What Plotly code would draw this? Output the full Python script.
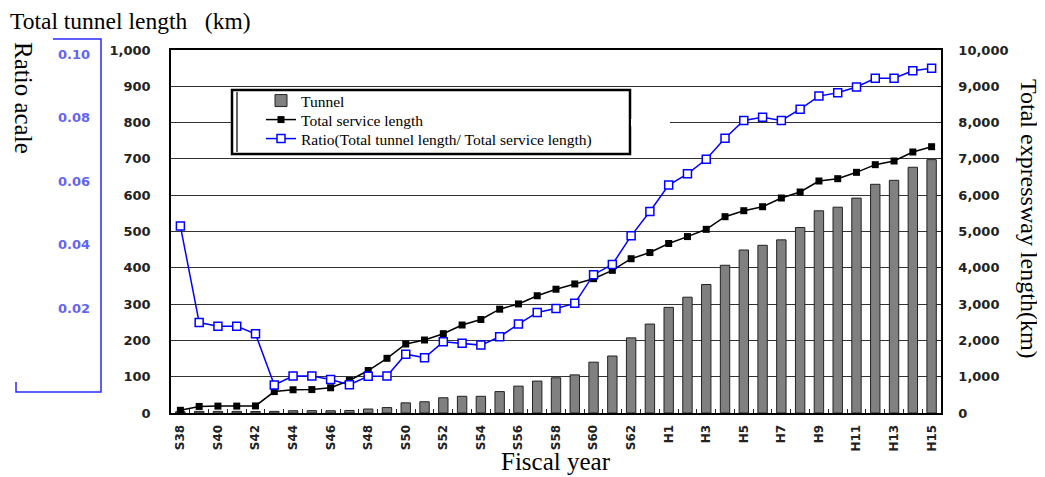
import plotly.graph_objects as go

# ---------------- data ----------------
years = ["S38", "S39", "S40", "S41", "S42", "S43", "S44", "S45", "S46", "S47",
         "S48", "S49", "S50", "S51", "S52", "S53", "S54", "S55", "S56", "S57",
         "S58", "S59", "S60", "S61", "S62", "S63",
         "H1", "H2", "H3", "H4", "H5", "H6", "H7", "H8", "H9", "H10",
         "H11", "H12", "H13", "H14", "H15"]

tunnel_km = [3.7, 4.5, 4.5, 4.5, 4.2, 4.5, 6.3, 6.5, 6.3, 7,
             11, 15, 28, 31, 42, 46, 46, 59, 74, 88,
             97, 105, 140, 157, 207, 245,
             291, 319, 354, 407, 449, 462, 477, 511, 557, 567,
             592, 630, 641, 677, 698]

service_km = [75, 181, 190, 190, 195, 590, 640, 645, 695, 895,
              1170, 1507, 1901, 2011, 2185, 2424, 2575, 2860, 3005, 3230,
              3410, 3555, 3700, 3930, 4250, 4420,
              4670, 4860, 5060, 5408, 5573, 5683, 5923, 6088, 6391, 6455,
              6630, 6841, 6942, 7190, 7336]

ratio = [0.0515, 0.0249, 0.0239, 0.0239, 0.0218, 0.0077, 0.0102, 0.0102, 0.0092, 0.0078,
         0.0101, 0.0102, 0.0162, 0.0152, 0.0196, 0.0192, 0.0187, 0.0210, 0.0245, 0.0277,
         0.0288, 0.0302, 0.0381, 0.0409, 0.0488, 0.0555,
         0.0628, 0.0659, 0.0699, 0.0757, 0.0806, 0.0815, 0.0806, 0.0837, 0.0873, 0.0882,
         0.0898, 0.0922, 0.0922, 0.0943, 0.0950]

left_ticks = list(range(0, 1001, 100))
right_ticks = list(range(0, 10001, 1000))
ratio_ticks = [0.02, 0.04, 0.06, 0.08, 0.10]
x_ticktext = [y if i % 2 == 0 else "" for i, y in enumerate(years)]

# ---------------- geometry helpers (layout only) ----------------
OFF = 8                      # page body margin of the html page
W, H = 1045 - OFF, 477 - OFF
ML, MR, MT, MB = 2, 104, 42, 64
PL, PR, PT, PB = 171, 941, 50, 413   # plot area in window pixels
NCAT = len(years)


def px_x(px):
    return (px - OFF - ML) / (W - ML - MR)


def px_y(py):
    return (H - MB - (py - OFF)) / (H - MT - MB)


def cat_x(px):
    return (px - PL) / ((PR - PL) / NCAT) - 0.5


def val_y(py):
    return (PB - py) / (PB - PT) * 1000


# decorative blue ratio scale: 0.10 at y=54px, 0.02 at y=308px
r_per_px = 0.08 / (308 - 54)
r_top = 0.10 + (54 - PT) * r_per_px
r_bot_px = 392
r_bot = 0.10 - (r_bot_px - 54) * r_per_px

tick_font = dict(family="DejaVu Sans", size=13, color="#222222", weight="bold")
serif = "Liberation Serif"
leg_font = dict(family=serif, size=15.5, color="black")

fig = go.Figure()

fig.add_trace(go.Bar(
    x=years, y=tunnel_km, name="Tunnel",
    marker=dict(color="#808080", line=dict(color="#222222", width=1)),
    xaxis="x", yaxis="y", legend="legend",
))
fig.add_trace(go.Scatter(
    x=years, y=service_km, name="Total service length",
    mode="lines+markers",
    line=dict(color="black", width=1.5),
    marker=dict(symbol="square", size=7, color="black"),
    xaxis="x", yaxis="y2", legend="legend2",
))
fig.add_trace(go.Scatter(
    x=years, y=ratio, name="Ratio(Total tunnel length/ Total service length)",
    mode="lines+markers",
    line=dict(color="#0000ff", width=1.5),
    marker=dict(symbol="square", size=8, color="white",
                line=dict(color="#0000ff", width=1.5)),
    xaxis="x", yaxis="y3", legend="legend3",
))
# carrier for the decorative blue ratio scale
fig.add_trace(go.Scatter(x=[years[0]], y=[None], xaxis="x", yaxis="y4",
                         showlegend=False, hoverinfo="skip", mode="markers"))


def leg(ypx):
    return dict(x=px_x(261), y=px_y(ypx), xanchor="left", yanchor="middle",
                bgcolor="rgba(0,0,0,0)", borderwidth=0, font=leg_font,
                itemwidth=30, tracegroupgap=0)


fig.update_layout(
    width=W, height=H, autosize=False,
    margin=dict(l=ML, r=MR, t=MT, b=MB, pad=0),
    paper_bgcolor="white", plot_bgcolor="rgba(0,0,0,0)",
    bargap=0.5,
    showlegend=True,
    legend=leg(101), legend2=leg(120), legend3=leg(139),
    xaxis=dict(
        type="category", domain=[px_x(PL), 1], range=[-0.5, NCAT - 0.5],
        tickmode="array", tickvals=years, ticktext=x_ticktext,
        tickson="boundaries", ticks="inside", ticklen=4, tickcolor="#222222",
        tickangle=-90, tickfont=dict(family="DejaVu Sans", size=12, color="#222222", weight="bold"),
        showline=True, linecolor="black", linewidth=2, mirror=True,
        showgrid=False, zeroline=False, anchor="y",
        ticklabelstandoff=5,
    ),
    yaxis=dict(
        domain=[0, 1], range=[0, 1000], tickmode="array", tickvals=left_ticks,
        tickformat=",d", tickfont=tick_font, ticks="",
        showgrid=True, gridcolor="#333333", gridwidth=1,
        showline=True, linecolor="black", linewidth=1.5,
        zeroline=False, anchor="x", ticklabelstandoff=16,
    ),
    yaxis2=dict(
        overlaying="y", side="right", range=[0, 10000], tickmode="array",
        tickvals=right_ticks, tickformat=",d", tickfont=tick_font,
        ticks="inside", ticklen=4, tickcolor="#222222",
        showgrid=False, showline=True, linecolor="black", linewidth=1.5,
        zeroline=False, anchor="x", ticklabelstandoff=13,
    ),
    yaxis3=dict(overlaying="y", range=[0, 0.1], visible=False, anchor="x"),
    yaxis4=dict(
        domain=[px_y(r_bot_px), 1], range=[r_bot, r_top],
        anchor="free", position=px_x(101), side="left",
        tickmode="array", tickvals=ratio_ticks, tickformat=".2f",
        tickfont=dict(family="DejaVu Sans", size=13, color="#6464f2", weight="bold"),
        ticks="", showline=False, showgrid=False, zeroline=False,
        ticklabelstandoff=11,
    ),
    annotations=[
        dict(text="Total tunnel length\u00a0\u00a0\u00a0(km)", xref="paper", yref="paper",
             x=px_x(8), y=px_y(21), xanchor="left", yanchor="middle", showarrow=False,
             font=dict(family=serif, size=23.5, color="black")),
        dict(text="Ratio acale", xref="paper", yref="paper", textangle=90,
             x=px_x(24), y=px_y(98), xanchor="center", yanchor="middle", showarrow=False,
             font=dict(family=serif, size=25, color="black")),
        dict(text="Total expressway length(km)", xref="paper", yref="paper", textangle=90,
             x=px_x(1029), y=px_y(219), xanchor="center", yanchor="middle", showarrow=False,
             font=dict(family=serif, size=24, color="black")),
        dict(text="Fiscal year", xref="paper", yref="paper",
             x=px_x(556), y=px_y(461), xanchor="center", yanchor="middle", showarrow=False,
             font=dict(family=serif, size=25, color="black")),
    ],
    shapes=[
        # blue bracket of the ratio scale
        dict(type="path", xref="paper", yref="paper",
             path=(f"M {px_x(53)},{px_y(39)} L {px_x(101)},{px_y(39)} "
                   f"L {px_x(101)},{px_y(392)} L {px_x(16)},{px_y(392)} "
                   f"L {px_x(16)},{px_y(382)}"),
             line=dict(color="#2a2aff", width=1.5), layer="above"),
        # legend frame
        dict(type="rect", xref="x", yref="y", layer="between",
             x0=cat_x(232), x1=cat_x(630), y0=val_y(154), y1=val_y(90),
             fillcolor="white", line=dict(color="black", width=2.5)),
        dict(type="line", xref="x", yref="y", layer="between",
             x0=cat_x(237), x1=cat_x(237), y0=val_y(152), y1=val_y(92),
             line=dict(color="black", width=1.2)),
        # gap in the 800 grid line next to the legend
        dict(type="rect", xref="x", yref="y", layer="between",
             x0=cat_x(631), x1=cat_x(670), y0=790, y1=810,
             fillcolor="white", line=dict(width=0)),
    ],
)

fig.write_html("out.html")
